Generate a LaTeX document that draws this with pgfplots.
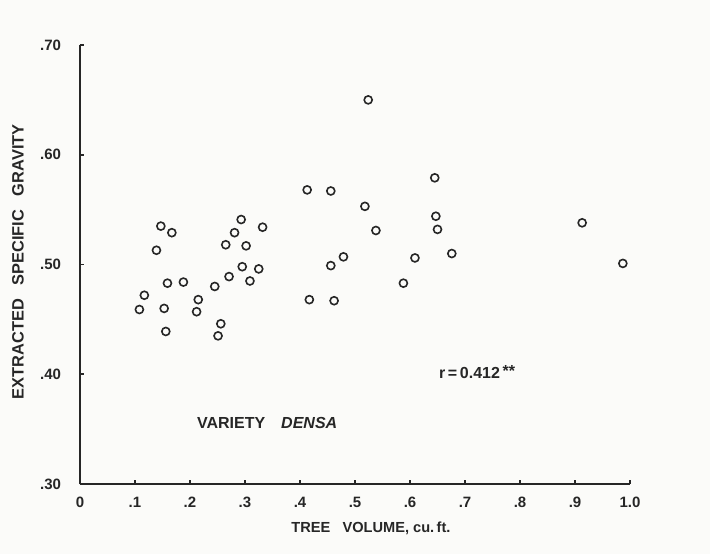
\documentclass[border=0pt]{standalone}
\usepackage{fontspec}
\setmainfont{Liberation Sans}
\usepackage{pgfplots}
\pgfplotsset{compat=1.18}
\definecolor{ink}{HTML}{262626}
\definecolor{paper}{HTML}{FBFBF9}
\begin{document}
\begin{tikzpicture}[font=\fontsize{7}{8}\selectfont\bfseries]
\path[use as bounding box, fill=paper] (-40pt,-35pt) rectangle (315pt,242pt);
\begin{axis}[
  width=275pt, height=219.5pt, scale only axis,
  xmin=0, xmax=1, ymin=0.3, ymax=0.7,
  axis lines=left,
  axis line style={-, draw=ink, line width=1pt},
  xtick={0,0.1,0.2,0.3,0.4,0.5,0.6,0.7,0.8,0.9,1},
  xticklabels={0,.1,.2,.3,.4,.5,.6,.7,.8,.9,1.0},
  ytick={0.3,0.4,0.5,0.6,0.7},
  yticklabels={.30,.40,.50,.60,.70},
  tick align=inside, major tick length=2pt,
  tick style={draw=ink, line width=0.8pt},
  ticklabel style={text=ink, font=\fontsize{7.5}{8}\selectfont\bfseries},
  xticklabel style={yshift=-3pt},
  yticklabel style={xshift=-6pt},
  xlabel={TREE\ \ \ VOLUME, cu.\,ft.},
  xlabel style={at={(axis description cs:0.529,-0.1)}, anchor=center, text=ink,
    font=\fontsize{7.3}{8}\selectfont\bfseries},
  ylabel={EXTRACTED\ \ \ SPECIFIC\ \ \ GRAVITY},
  ylabel style={at={(axis description cs:-0.1127,0.506)}, anchor=center, text=ink,
    font=\fontsize{8.2}{9}\selectfont\bfseries},
  clip=false,
]
\addplot[only marks, mark=o, mark size=2pt, draw=ink, line width=0.8pt] table {
x y
0.108 0.459
0.117 0.472
0.139 0.513
0.147 0.535
0.153 0.460
0.156 0.439
0.159 0.483
0.167 0.529
0.188 0.484
0.212 0.457
0.215 0.468
0.245 0.480
0.251 0.435
0.256 0.446
0.265 0.518
0.271 0.489
0.281 0.529
0.293 0.541
0.295 0.498
0.302 0.517
0.309 0.485
0.325 0.496
0.332 0.534
0.413 0.568
0.417 0.468
0.456 0.567
0.456 0.499
0.462 0.467
0.479 0.507
0.518 0.553
0.524 0.650
0.538 0.531
0.588 0.483
0.609 0.506
0.645 0.579
0.647 0.544
0.650 0.532
0.676 0.510
0.913 0.538
0.987 0.501
};
\node[anchor=west, text=ink, font=\fontsize{8}{9}\selectfont\bfseries] at (axis cs:0.64,0.402) {r\,=\,0.412\,\raisebox{0.35ex}{**}};
\node[anchor=west, text=ink, font=\fontsize{8}{9}\selectfont\bfseries] at (axis cs:0.2,0.356) {VARIETY\quad\textit{DENSA}};
\end{axis}
\end{tikzpicture}
\end{document}
